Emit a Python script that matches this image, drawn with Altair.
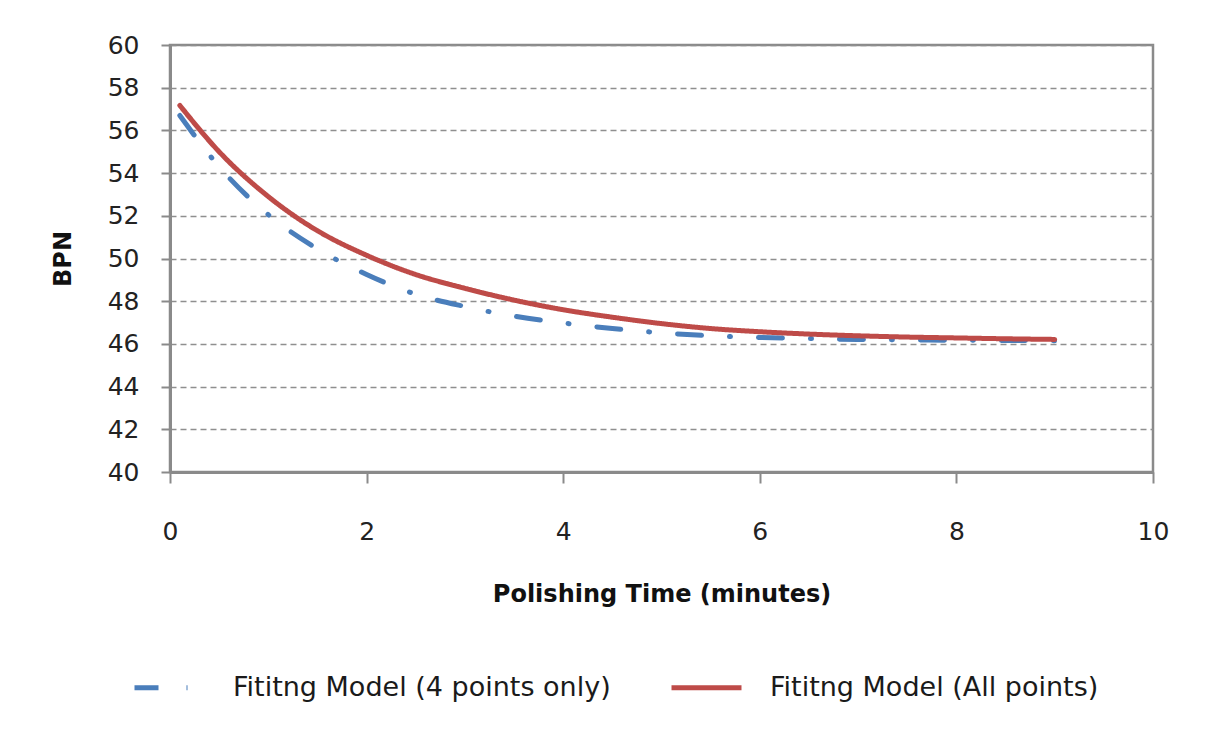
import altair as alt
import pandas as pd

# Values
time_min = [0.1, 0.5, 1.0, 1.5, 2.0, 2.5, 3.0, 3.5, 4.0, 4.5, 5.0, 5.5, 6.0, 6.5, 7.0, 7.5, 8.0, 8.5, 9.0]
bpn_4_points = [56.7, 54.3, 52.05, 50.45, 49.25, 48.33, 47.75, 47.3, 46.98, 46.72, 46.52, 46.38, 46.3, 46.25, 46.21, 46.19, 46.17, 46.16, 46.15]
bpn_all_points = [57.17, 55.0, 52.9, 51.3, 50.15, 49.25, 48.6, 48.05, 47.6, 47.25, 46.95, 46.72, 46.57, 46.46, 46.38, 46.32, 46.28, 46.24, 46.21]
series_names = ["Fititng Model (4 points only)", "Fititng Model (All points)"]
series_colors = ["#4A7EBB", "#BE4B48"]
x_ticks = [0, 2, 4, 6, 8, 10]
y_ticks = [40, 42, 44, 46, 48, 50, 52, 54, 56, 58, 60]

rows = []
for t, v in zip(time_min, bpn_4_points):
    rows.append({"time": t, "bpn": v, "series": series_names[0]})
for t, v in zip(time_min, bpn_all_points):
    rows.append({"time": t, "bpn": v, "series": series_names[1]})
df = pd.DataFrame(rows)

FONT = "DejaVu Sans"

base = alt.Chart(df).mark_line(strokeWidth=5, strokeCap="round", interpolate="monotone").encode(
    x=alt.X("time:Q",
            scale=alt.Scale(domain=[0, 10], nice=False),
            axis=alt.Axis(values=x_ticks, title="Polishing Time (minutes)", grid=False,
                          labelFlush=False, tickSize=11, labelPadding=36, titlePadding=38)),
    y=alt.Y("bpn:Q",
            scale=alt.Scale(domain=[40, 60], nice=False, zero=False),
            axis=alt.Axis(values=y_ticks, title="BPN", grid=True, labelFlush=False,
                          tickSize=9, labelPadding=22, titlePadding=32)),
    color=alt.Color("series:N",
                    scale=alt.Scale(domain=series_names, range=series_colors),
                    legend=alt.Legend(title=None, orient="none", direction="horizontal",
                                      legendX=-38, legendY=605,
                                      symbolType="stroke", symbolSize=4900,
                                      symbolStrokeWidth=5, labelFontSize=27, labelFont=FONT,
                                      labelColor="#1a1a1a", labelOffset=26, columnPadding=50,
                                      labelLimit=600)),
    strokeDash=alt.StrokeDash("series:N",
                              scale=alt.Scale(domain=series_names, range=[[24, 28, 1, 28], [1, 0]]),
                              legend=None),
)

blue = base.transform_filter(alt.datum.series == series_names[0])
red = base.transform_filter(alt.datum.series == series_names[1])

chart = alt.layer(blue, red).properties(
    width=983, height=427,
    autosize=alt.AutoSizeParams(type="none"),
    padding={"left": 170, "top": 45, "right": 54, "bottom": 258},
    background="white",
).configure_view(
    stroke="#8a8a8a", strokeWidth=2.5
).configure_axis(
    domainColor="#8a8a8a", domainWidth=3,
    tickColor="#8a8a8a", tickWidth=2,
    labelFont=FONT, labelFontSize=25, labelColor="#222222",
    titleFont=FONT, titleFontSize=24, titleFontWeight="bold", titleColor="#111111",
    gridColor="#8f8f8f", gridDash=[6, 4], gridWidth=1.5,
)

chart.save("out.html", embed_options={"renderer": "svg", "actions": False})
